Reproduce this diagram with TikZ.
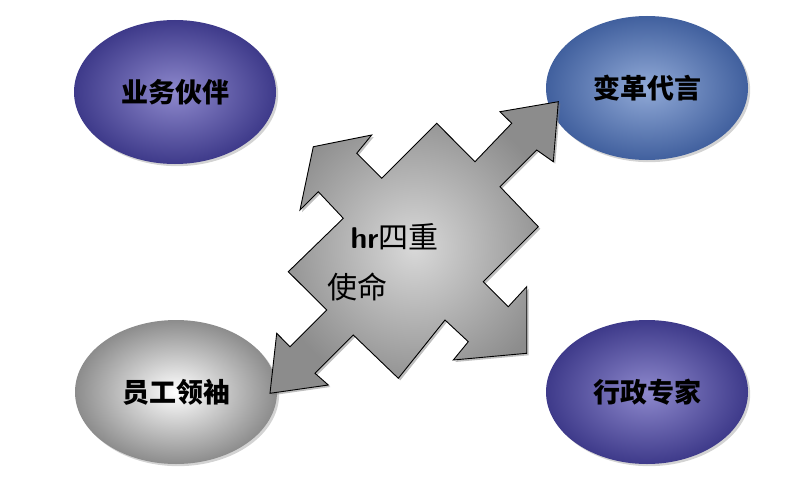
\documentclass[tikz,border=0pt]{standalone}
\usepackage{fontspec}
\newfontfamily\cjk{Noto Sans CJK SC}
\usetikzlibrary{shadows,shapes.geometric}
\definecolor{purp}{HTML}{7A74C4}
\definecolor{purpd}{HTML}{3E3A8A}
\definecolor{blu}{HTML}{7E9BD0}
\definecolor{blud}{HTML}{41609E}
\tikzset{
 oval/.style={ellipse, minimum width=202pt, minimum height=144pt, draw=none,
   font=\cjk\bfseries\fontsize{27}{30}\selectfont, drop shadow={opacity=0.35}},
 ovp/.style={oval, inner color=purp!85!white, outer color=purpd},
 ovb/.style={oval, inner color=blu!85!white, outer color=blud},
 ovw/.style={oval, inner color=white, outer color=black!45},
}
\begin{document}
\begin{tikzpicture}[x=1pt,y=-1pt]
\useasboundingbox (0,0) rectangle (791,487);
\node[ovp] (a) at (175,92) {业务伙伴};
\node[ovb] (b) at (647,88) {变革代言};
\node[ovw] (c) at (176,392) {员工领袖};
\node[ovp] (d) at (647,392) {行政专家};
\draw[black, line width=0.9pt, inner color=black!15, outer color=black!45, drop shadow={opacity=0.5,shadow xshift=2pt,shadow yshift=-2pt}]
 (558.3,101.7) -- (553.3,161.7) -- (536.7,150) -- (500,186.7) -- (538.3,226.7)
 -- (483.3,281.7) -- (508.3,306.7) -- (526.7,286.7) -- (526.7,353.3) -- (453.3,360)
 -- (468.3,341.7) -- (445,320) -- (398.3,378.3) -- (353.3,335) -- (315,373.3)
 -- (328.3,385) -- (270,393.3) -- (276.7,333.3) -- (290,346.7) -- (326.7,310)
 -- (288.3,271.7) -- (343.3,218.3) -- (318.3,191.7) -- (300,210) -- (313.3,146.7)
 -- (371.7,135) -- (356.7,153.3) -- (381.7,178.3) -- (436.7,123.3) -- (475,161.7)
 -- (511.7,123.3) -- (500,111.7) -- cycle;
\node[font=\fontsize{30}{32}\selectfont, anchor=west] (t1) at (347,237) {\textbf{\sffamily hr}\cjk 四重};
\node[font=\cjk\fontsize{30}{32}\selectfont, anchor=west] (t2) at (324,287) {使命};
\end{tikzpicture}
\end{document}
